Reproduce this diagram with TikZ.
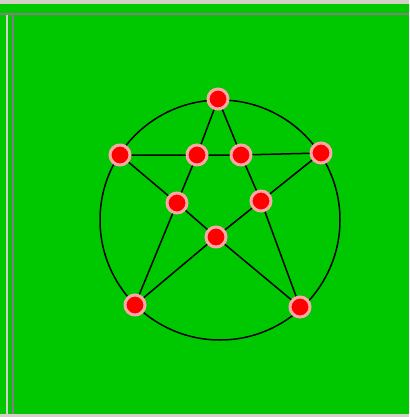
\documentclass[tikz,border=0pt]{standalone}
\begin{document}
\begin{tikzpicture}[x=1pt,y=-1pt,
  vtx/.style={circle,fill=red,draw=red!35!white,line width=3pt,minimum size=20pt,inner sep=0pt},
  edge/.style={black,line width=1.5pt}]
\definecolor{bg}{RGB}{0,200,0}
\definecolor{lg}{RGB}{212,208,200}
\definecolor{dg}{RGB}{128,128,128}
\useasboundingbox (0,0) rectangle (409,417);
\fill[bg] (0,0) rectangle (409,417);
\fill[lg] (0,-1) rectangle (409,4.5);
\fill[lg] (0,413.5) rectangle (409,418);
\fill[dg] (0,13) rectangle (409,15);
\fill[lg] (6,15) rectangle (8,414);
\fill[dg] (12,15) rectangle (14,414);
\draw[edge] (220,220) circle (120);
\node[vtx] (t) at (218,99) {};
\node[vtx] (l) at (120,155) {};
\node[vtx] (r) at (321,153) {};
\node[vtx] (bl) at (135,305) {};
\node[vtx] (br) at (300,307) {};
\node[vtx] (a) at (197,155) {};
\node[vtx] (b) at (241,155) {};
\node[vtx] (c) at (177,203) {};
\node[vtx] (d) at (261,201) {};
\node[vtx] (e) at (216,237) {};
\draw[edge] (t) -- (a) -- (c) -- (bl);
\draw[edge] (t) -- (b) -- (d) -- (br);
\draw[edge] (l) -- (a) -- (b) -- (r);
\draw[edge] (l) -- (c) -- (e) -- (br);
\draw[edge] (r) -- (d) -- (e) -- (bl);
\end{tikzpicture}
\end{document}
